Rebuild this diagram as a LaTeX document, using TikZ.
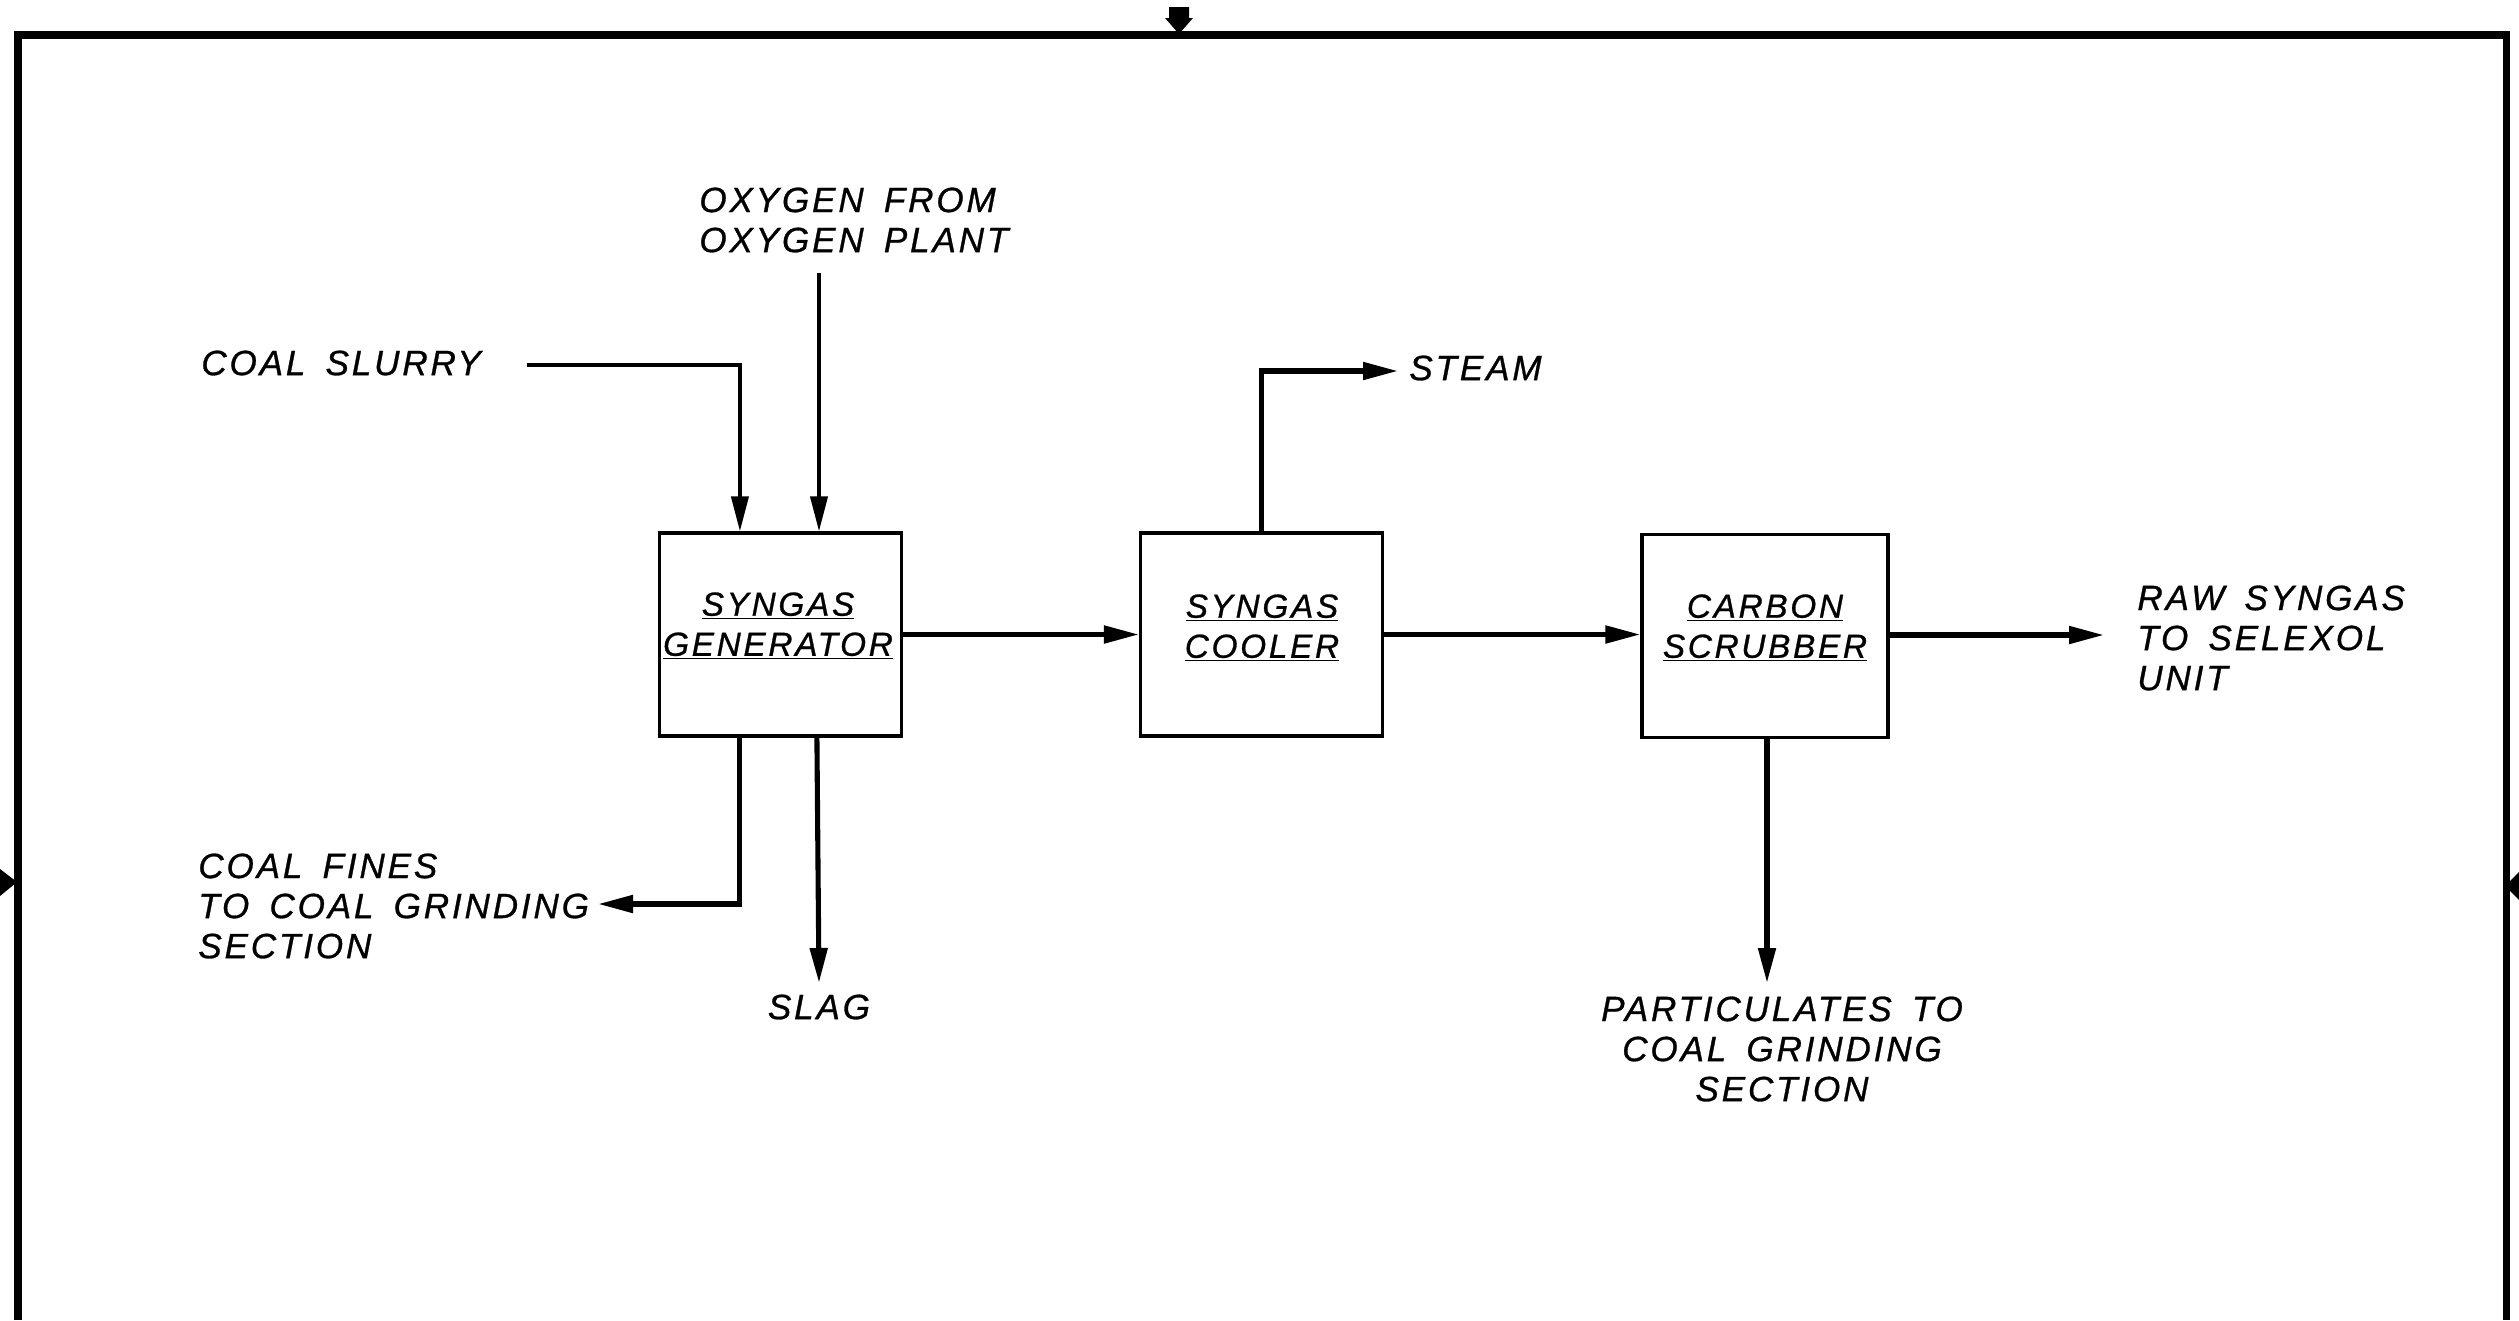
\documentclass[tikz,border=0pt]{standalone}
\usepackage{fontspec}
\newfontfamily\lett{Liberation Sans}[LetterSpace=8,WordSpace=1.6,FakeBold=0.8]
\newfontfamily\boxlett{Liberation Sans}[LetterSpace=8,WordSpace=1.6,FakeBold=0.8]
\usetikzlibrary{arrows.meta,calc}
\begin{document}
\begin{tikzpicture}[x=0.02cm,y=-0.02cm,
  txt/.style={font=\lett\itshape\fontsize{20pt}{22.8pt}\selectfont, inner sep=0pt, align=left},
  boxtxt/.style={font=\boxlett\itshape\fontsize{19pt}{22.8pt}\selectfont, inner sep=0pt, align=center},
  unitbox/.style={draw, line width=1.8pt, minimum width=4.84cm, minimum height=4.06cm, inner sep=0pt},
  flow/.style={line width=2.9pt, -{Triangle[length=0.7cm,width=0.34cm]}},
  feed/.style={line width=2.2pt, -{Triangle[length=0.7cm,width=0.34cm]}},
  frame/.style={line width=4pt}]
\useasboundingbox (0,0) rectangle (2519,1320);
% frame and sheet markers
\draw[frame] (18,1320) -- (18,35) -- (2506,35) -- (2506,1320);
\fill (1169,7) -- (1189,7) -- (1189,18) -- (1193,18) -- (1179,34) -- (1165,18) -- (1169,18) -- cycle;
\fill (0,869) -- (17,882) -- (0,896) -- cycle;
\fill (2519,872) -- (2505,886) -- (2519,900) -- cycle;
% unit boxes
\node[unitbox] (gen) at (780.5,634.5) {};
\node[unitbox] (cool) at (1261.5,634.5) {};
\node[unitbox, minimum width=4.92cm] (scrub) at (1765,636) {};
\node[boxtxt] (genl) at (778,626) {\underline{SYNGAS}\\\underline{GENERATOR}};
\node[boxtxt] (cooll) at (1262,628) {\underline{SYNGAS}\\\underline{COOLER}};
\node[boxtxt] (scrubl) at (1765,628) {\underline{CARBON}\\\underline{SCRUBBER}};
% stream labels
\node[txt, anchor=west] (slurry) at (201,363) {COAL SLURRY};
\node[txt, anchor=west] (oxy) at (699,220) {OXYGEN FROM\\OXYGEN PLANT};
\node[txt, anchor=west] (fines) at (198,906) {COAL FINES\\TO COAL GRINDING\\SECTION};
\node[txt] (slag) at (819,1007) {SLAG};
\node[txt, anchor=west] (steam) at (1409,368) {STEAM};
\node[txt, anchor=west] (raw) at (2137,638) {RAW SYNGAS\\TO SELEXOL\\UNIT};
\node[txt, align=center] (part) at (1782,1049) {PARTICULATES TO\\COAL GRINDING\\SECTION};
% free ends
\coordinate (cs) at (527,365);
\coordinate (ox) at (819,273);
\coordinate (st) at (1398,371);
\coordinate (cf) at (598,904);
\coordinate (sl) at (819,983);
\coordinate (pt) at (1767,983);
\coordinate (rawtip) at (2104,635);
% connectors
\draw[feed] (cs) -| ([xshift=1.64cm]gen.north west);
\draw[feed] (ox) -- (ox |- gen.north);
\draw[flow] (gen) -- (cool);
\draw[flow] (cool.east) -- (cool.east -| scrub.west);
\draw[flow] (scrub.east |- rawtip) -- (rawtip);
\draw[flow] ([xshift=2.46cm]cool.north west) |- (st);
\draw[flow] ([xshift=1.64cm]gen.south west) |- (cf);
\draw[flow] ([xshift=3.18cm]gen.south west) -- (sl);
\draw[flow] (scrub.south -| pt) -- (pt);
\end{tikzpicture}
\end{document}
